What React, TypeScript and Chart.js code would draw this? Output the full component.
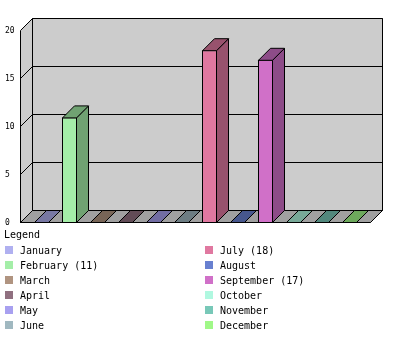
import React, { useEffect, useRef } from "react";
import { Chart, registerables } from "chart.js";

Chart.register(...registerables);

const months = [
  "January", "February", "March", "April", "May", "June",
  "July", "August", "September", "October", "November", "December",
];
const values = [0, 11, 0, 0, 0, 0, 18, 0, 17, 0, 0, 0];
const colors = [
  "#b0b0f0", "#a4eea8", "#b09480", "#907080", "#a8a0f0", "#a0b8c0",
  "#e078a0", "#6880d0", "#d070c8", "#b0f8e0", "#78c8b8", "#a0f888",
];
const yTicks = [0, 5, 10, 15, 20];
const legendTitle = "Legend";

const DEPTH = 12;
const FONT = "10px 'DejaVu Sans Mono'";

function shade(hex: string, f: number): string {
  const n = parseInt(hex.slice(1), 16);
  const r = Math.round(((n >> 16) & 255) * f);
  const g = Math.round(((n >> 8) & 255) * f);
  const b = Math.round((n & 255) * f);
  return `rgb(${r},${g},${b})`;
}

function poly(ctx: CanvasRenderingContext2D, pts: number[][], fill?: string, stroke = true) {
  ctx.beginPath();
  ctx.moveTo(pts[0][0], pts[0][1]);
  for (let i = 1; i < pts.length; i++) ctx.lineTo(pts[i][0], pts[i][1]);
  ctx.closePath();
  if (fill) {
    ctx.fillStyle = fill;
    ctx.fill();
  }
  if (stroke) ctx.stroke();
}

const threeD = {
  id: "threeD",
  beforeDatasetsDraw(chart: any) {
    const { ctx, chartArea: a, scales } = chart;
    const y = scales.y;
    const D = DEPTH;
    const L = a.left - 7;
    const R = a.right + 7;
    const top = y.getPixelForValue(yTicks[yTicks.length - 1]) - 0.5;
    const bot = y.getPixelForValue(0) - 0.5;
    ctx.save();
    ctx.lineWidth = 1;
    ctx.strokeStyle = "#000";
    poly(ctx, [[L, top], [L + D, top - D], [L + D, bot - D], [L, bot]], "#cccccc", false);
    poly(ctx, [[L + D, top - D], [R + D, top - D], [R + D, bot - D], [L + D, bot - D]], "#cccccc", true);
    poly(ctx, [[L, bot], [L + D, bot - D], [R + D, bot - D], [R, bot]], "#a0a0a0", true);
    ctx.beginPath();
    for (const v of yTicks) {
      const p = y.getPixelForValue(v) - 0.5;
      ctx.moveTo(L, p);
      ctx.lineTo(L + D, p - D);
      ctx.lineTo(R + D, p - D);
    }
    ctx.moveTo(L, top);
    ctx.lineTo(L, bot);
    ctx.stroke();
    ctx.restore();
  },
  afterDatasetsDraw(chart: any) {
    const { ctx } = chart;
    const D = DEPTH;
    const meta = chart.getDatasetMeta(0);
    ctx.save();
    ctx.lineWidth = 1;
    ctx.strokeStyle = "#000";
    meta.data.forEach((el: any, i: number) => {
      const half = el.width / 2;
      const l = el.x - half + 0.5;
      const r = el.x + half - 0.5;
      const b = el.base - 0.5;
      const t = Math.min(el.y + 0.5, b);
      const dark = shade(colors[i], 0.68);
      if (b - t > 0.5) {
        poly(ctx, [[r, t], [r + D, t - D], [r + D, b - D], [r, b]], dark, true);
      }
      poly(ctx, [[l, t], [l + D, t - D], [r + D, t - D], [r, t]], dark, true);
    });
    const a = chart.chartArea;
    const bot = chart.scales.y.getPixelForValue(0) - 0.5;
    ctx.beginPath();
    ctx.moveTo(a.left - 7, bot);
    ctx.lineTo(a.right + 7, bot);
    ctx.stroke();
    ctx.restore();
  },
  afterDraw(chart: any) {
    const { ctx } = chart;
    ctx.save();
    ctx.font = FONT;
    ctx.textBaseline = "middle";
    ctx.textAlign = "left";
    ctx.fillStyle = "#000";
    ctx.fillText(legendTitle, 4, 235);
    months.forEach((m, i) => {
      const col = Math.floor(i / 6);
      const row = i % 6;
      const x = col === 0 ? 5 : 205;
      const yc = 250 + row * 15;
      ctx.fillStyle = colors[i];
      ctx.fillRect(x, yc - 4, 8, 8);
      ctx.fillStyle = "#000";
      const label = values[i] > 0 ? `${m} (${values[i]})` : m;
      ctx.fillText(label, x + 15, yc + 1);
    });
    ctx.restore();
  },
};

export default function App() {
  const ref = useRef<HTMLCanvasElement>(null);
  useEffect(() => {
    if (!ref.current) return;
    const chart = new Chart(ref.current, {
      type: "bar",
      data: {
        labels: months,
        datasets: [
          {
            data: values,
            backgroundColor: colors,
            borderColor: "#000",
            borderWidth: 1,
            borderSkipped: false,
            categoryPercentage: 1,
            barPercentage: 15 / 28,
          },
        ],
      },
      options: {
        animation: false,
        responsive: false,
        devicePixelRatio: 1,
        layout: { padding: { left: 5, right: 36.5, top: 31, bottom: 127 } },
        plugins: { legend: { display: false }, tooltip: { enabled: false } },
        scales: {
          x: { display: false },
          y: {
            min: 0,
            max: 20,
            afterFit: (s: any) => {
              s.width = 22.5;
            },
            afterBuildTicks: (s: any) => {
              s.ticks = yTicks.map((v) => ({ value: v }));
            },
            grid: { display: false },
            border: { display: false },
            ticks: {
              color: "#000",
              font: { family: "'DejaVu Sans Mono'", size: 8 },
              crossAlign: "far",
              padding: 0,
            },
          },
        },
      },
      plugins: [threeD],
    });
    return () => chart.destroy();
  }, []);
  return (
    <div style={{ position: "fixed", left: 0, top: 0, width: 400, height: 350, background: "#fff" }}>
      <canvas ref={ref} width={400} height={350} style={{ display: "block" }} />
    </div>
  );
}
